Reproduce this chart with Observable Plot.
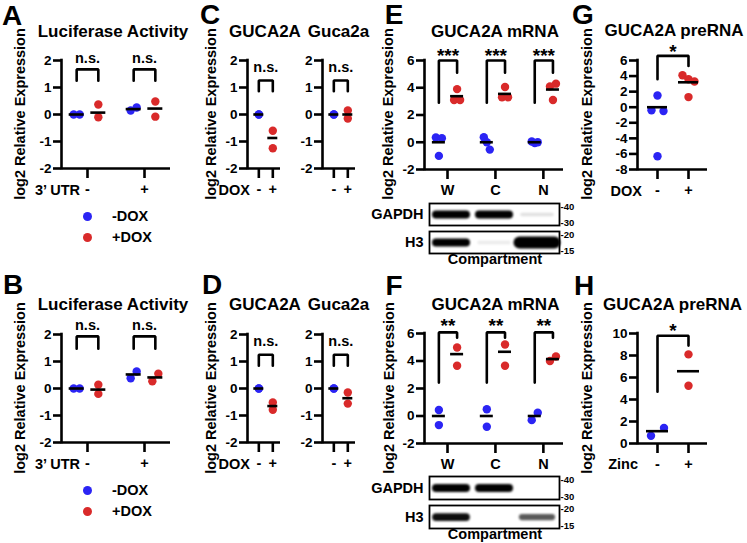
<!DOCTYPE html>
<html>
<head>
<meta charset="utf-8">
<script src="https://cdn.jsdelivr.net/npm/d3@7"></script>
<script src="https://cdn.jsdelivr.net/npm/@observablehq/plot@0.6"></script>
<style>
  body { margin: 0; background: #fff; }
  #fig { position: relative; width: 747px; height: 543px; overflow: hidden; background: #fff;
         font-family: "Liberation Sans", Arial, Helvetica, sans-serif; font-weight: bold; color: #000; }
  #fig svg { position: absolute; overflow: visible; max-width: none; background: transparent; }
  .t { position: absolute; white-space: nowrap; line-height: 1; }
  .dot { position: absolute; border-radius: 50%; }
</style>
</head>
<body>
<div id="fig"></div>
<script>
// ================= DATA (log2 relative expression) =================
const doxSeries = ["-DOX", "+DOX"];
const seriesColors = ["#2b24f4", "#d92a2a"];

// A / B : Luciferase Activity, x = 3' UTR
const utrLevels = ["-", "+"];
const lucA_minusDox = [[0, 0], [0.15, 0.26]];
const lucA_plusDox = [[0.37, -0.1], [0.48, -0.08]];
const lucA_meanMinus = [0, 0.2];
const lucA_meanPlus = [0.07, 0.22];
const lucA_sig = ["n.s.", "n.s."];

const lucB_minusDox = [[0, 0], [0.38, 0.63]];
const lucB_plusDox = [[0.14, -0.2], [0.27, 0.55]];
const lucB_meanMinus = [0, 0.52];
const lucB_meanPlus = [-0.04, 0.41];
const lucB_sig = ["n.s.", "n.s."];

// C / D : GUCA2A (human) and Guca2a (mouse), x = DOX
const doxLevels = ["-", "+"];
const gucC_human_minus = [0, 0];
const gucC_human_plus = [-0.6, -1.25];
const gucC_human_means = [0, -0.87];
const gucC_mouse_minus = [0, 0];
const gucC_mouse_plus = [0.15, -0.15];
const gucC_mouse_means = [0, 0];
const gucD_human_minus = [0, 0];
const gucD_human_plus = [-0.52, -0.79];
const gucD_human_means = [0, -0.65];
const gucD_mouse_minus = [0, 0];
const gucD_mouse_plus = [-0.15, -0.56];
const gucD_mouse_means = [0, -0.36];
const gucCD_sig = ["n.s."];

// E / F : GUCA2A mRNA by compartment
const compartments = ["W", "C", "N"];
const mrnaE_minusDox = [[0.35, 0.3, -1.0], [0.37, 0, -0.54], [0.05, -0.05, 0]];
const mrnaE_plusDox = [[3.9, 3.1, 3.1], [4.05, 3.3, 3.3], [4.1, 4.3, 3.1]];
const mrnaE_meanMinus = [0, 0, 0];
const mrnaE_meanPlus = [3.38, 3.55, 3.87];
const mrnaE_sig = ["***", "***", "***"];

const mrnaF_minusDox = [[0.44, -0.66], [0.49, -0.78], [-0.3, 0.24]];
const mrnaF_plusDox = [[4.98, 3.65], [5.2, 3.65], [4.0, 4.33]];
const mrnaF_meanMinus = [0, 0, 0];
const mrnaF_meanPlus = [4.5, 4.67, 4.14];
const mrnaF_sig = ["**", "**", "**"];

// G / H : GUCA2A preRNA
const preG_minus = [1.5, -0.4, -0.5, -6.3];
const preG_plus = [4.1, 3.6, 3.3, 1.3];
const preG_means = [0, 3.2];
const preG_sig = ["*"];
const zincLevels = ["-", "+"];
const preH_minus = [0.7, 1.42];
const preH_plus = [8.1, 5.25];
const preH_means = [1.12, 6.57];
const preH_sig = ["*"];

// Western blots (relative band signal per lane W, C, N)
const blotProteins = ["GAPDH", "H3"];
const blotE_GAPDH = [1, 1, 0.12];
const blotE_H3 = [1, 0.08, 1.6];
const blotF_GAPDH = [1, 1, 0];
const blotF_H3 = [0.95, 0, 0.65];
const markerTop = ["40", "20"];
const markerBottom = ["30", "15"];

// ================= HELPERS =================
const fig = document.getElementById("fig");
const FONT = '"Liberation Sans", Arial, Helvetica, sans-serif';
const LW = 2.6;

function txt(str, x, y, o = {}) {
  const d = document.createElement("div");
  d.className = "t";
  d.textContent = str;
  d.style.fontSize = (o.size || 14.5) + "px";
  d.style.left = x + "px";
  d.style.top = y + "px";
  const a = o.anchor || "middle";
  const tx = a === "start" ? "0" : a === "end" ? "-100%" : "-50%";
  d.style.transform = `translate(${tx},-50%)` + (o.rotate ? ` rotate(${o.rotate}deg)` : "");
  fig.appendChild(d);
}
function legendDot(color, x, y, r) {
  const d = document.createElement("div");
  d.className = "dot";
  Object.assign(d.style, {left: (x - r) + "px", top: (y - r) + "px", width: 2 * r + "px", height: 2 * r + "px", background: color});
  fig.appendChild(d);
}

// beeswarm-like spreading of overlapping points (returns offsets in px)
function dodge(values, ppuY, step, thresh) {
  const off = values.map(() => 0);
  if (!values.length || !step) return off;
  const idx = values.map((v, i) => i).sort((a, b) => values[b] - values[a]);
  const clusters = [];
  let cur = [idx[0]];
  for (let k = 1; k < idx.length; k++) {
    if ((values[idx[k - 1]] - values[idx[k]]) * ppuY < thresh) cur.push(idx[k]);
    else { clusters.push(cur); cur = [idx[k]]; }
  }
  clusters.push(cur);
  for (const c of clusters) {
    c.sort((a, b) => a - b);
    const n = c.length;
    if (n > 1) c.forEach((i, j) => off[i] = (j - (n - 1) / 2) * step / (n - 1));
  }
  return off;
}

function grouped(cats, minus, plus, meanM, meanP, offM, offP) {
  return cats.flatMap((c, i) => [
    {x: i + 1 + offM, color: seriesColors[0], values: minus[i], mean: meanM[i]},
    {x: i + 1 + offP, color: seriesColors[1], values: plus[i], mean: meanP[i]}
  ]);
}
function paired(minus, plus, means) {
  return [
    {x: 1, color: seriesColors[0], values: minus, mean: means[0]},
    {x: 2, color: seriesColors[1], values: plus, mean: means[1]}
  ];
}
function brackets(sig, offM, offP, top, legL, legR) {
  return sig.map((s, i) => ({x1: i + 1 + offM, x2: i + 1 + offP, top, legL, legR, label: s}));
}

function scatter(p) {
  const mL = 48, mR = 14, mT = 34, mB = 36;
  const [l, r, t, b] = p.frame;
  const W = r - l, H = b - t;
  const ppuY = H / (p.y[1] - p.y[0]);
  const ppuX = W / (p.x[1] - p.x[0]);
  const pts = [], means = [];
  for (const col of p.columns) {
    const off = dodge(col.values, ppuY, p.step, p.thresh || 8);
    col.values.forEach((v, i) => pts.push({x: col.x + off[i] / ppuX, y: v, color: col.color}));
    means.push({x1: col.x - p.meanHW / ppuX, x2: col.x + p.meanHW / ppuX, y: col.mean});
  }
  const brPts = p.brackets.flatMap((q, k) => [
    {k, x: q.x1, y: q.legL}, {k, x: q.x1, y: q.top}, {k, x: q.x2, y: q.top}, {k, x: q.x2, y: q.legR}
  ]);
  const svg = Plot.plot({
    width: W + mL + mR, height: H + mT + mB,
    marginLeft: mL, marginRight: mR, marginTop: mT, marginBottom: mB,
    style: {fontFamily: FONT, fontWeight: "bold", fontSize: "13.5px", background: "transparent", color: "#000", overflow: "visible"},
    x: {domain: p.x, ticks: p.cats.map((c, i) => i + 1), tickFormat: v => p.cats[Math.round(v) - 1] ?? "", tickSize: 10, tickPadding: 5, label: null},
    y: {domain: p.y, ticks: p.yTicks, tickFormat: d => String(d), tickSize: 8, tickPadding: 2, label: null},
    marks: [
      Plot.ruleY([p.y[0]], {strokeWidth: LW}),
      Plot.ruleX([p.x[0]], {strokeWidth: LW, strokeLinecap: "square"}),
      Plot.line(brPts, {x: "x", y: "y", z: "k", stroke: "#000", strokeWidth: LW, strokeLinejoin: "miter"}),
      Plot.text(p.brackets, {x: q => (q.x1 + q.x2) / 2, y: "top", text: "label", fontSize: p.sigSize, fontWeight: "bold", dy: p.sigDy}),
      Plot.dot(pts, {x: "x", y: "y", r: 4.2, fill: "color"}),
      Plot.ruleY(means, {x1: "x1", x2: "x2", y: "y", strokeWidth: LW})
    ]
  });
  const s = d3.select(svg);
  s.selectAll('[aria-label^="x-axis"] path, [aria-label^="x-axis"] line, [aria-label^="y-axis"] path, [aria-label^="y-axis"] line')
    .attr("stroke-width", LW);
  s.selectAll('[aria-label^="x-axis"] text').style("font-size", "14.5px");
  svg.style.left = (l - mL) + "px";
  svg.style.top = (t - mT) + "px";
  fig.appendChild(svg);
}

function blot(frame, gapdh, h3) {
  const mL = 70, mR = 26, mT = 4, mB = 4;
  const [l, r, t, b] = frame;
  const bands = [];
  blotProteins.forEach((prot, k) => (k === 0 ? gapdh : h3).forEach((s, i) => bands.push({protein: prot, lane: i + 1, s})));
  const ppuX = (r - l) / (3.512 - 0.488);
  const half = d => (15 + 4 * Math.max(0, d.s - 1)) / ppuX;
  const markers = blotProteins.map((prot, k) => ({protein: prot, top: markerTop[k], bottom: markerBottom[k]}));
  const svg = Plot.plot({
    width: (r - l) + mL + mR, height: (b - t) + mT + mB,
    marginLeft: mL, marginRight: mR, marginTop: mT, marginBottom: mB,
    style: {fontFamily: FONT, fontWeight: "bold", fontSize: "14.5px", background: "transparent", color: "#000", overflow: "visible"},
    x: {domain: [0.488, 3.512], axis: null},
    y: {domain: [0, 1], axis: null},
    fy: {domain: blotProteins, paddingInner: 0.21, paddingOuter: 0, axis: "left", tickSize: 0, tickPadding: 6, label: null},
    marks: [
      Plot.ruleY(bands.filter(d => d.s > 0), {
        fy: "protein", y: () => 0.5,
        x1: d => d.lane - half(d), x2: d => d.lane + half(d),
        stroke: "#000", strokeOpacity: d => Math.min(1, d.s),
        strokeWidth: d => 3 + 5 * Math.min(d.s, 1) + 7 * Math.max(0, d.s - 1),
        strokeLinecap: "round"
      }),
      Plot.frame({stroke: "#000", strokeWidth: 1.8}),
      Plot.text(markers, {fy: "protein", text: d => "-" + d.top, frameAnchor: "top-right", textAnchor: "start", lineAnchor: "middle", dx: 1, dy: 3, fontSize: 9.5, fontWeight: "bold"}),
      Plot.text(markers, {fy: "protein", text: d => "-" + d.bottom, frameAnchor: "bottom-right", textAnchor: "start", lineAnchor: "middle", dx: 1, dy: -3, fontSize: 9.5, fontWeight: "bold"})
    ]
  });
  const s = d3.select(svg);
  s.append("defs").append("filter").attr("id", "bandblur" + Math.round(t))
    .attr("x", "-20%").attr("y", "-100%").attr("width", "140%").attr("height", "300%")
    .append("feGaussianBlur").attr("stdDeviation", 1.1);
  s.selectAll('g[aria-label="rule"]').attr("filter", `url(#bandblur${Math.round(t)})`);
  s.selectAll('[aria-label^="fy-axis"] text').style("font-size", "14.5px");
  svg.style.left = (l - mL) + "px";
  svg.style.top = (t - mT) + "px";
  fig.appendChild(svg);
}

// ================= PANELS =================
const m11 = [-2, -1, 0, 1, 2];
// A
scatter({frame: [61, 170, 60, 168], x: [0.544, 2.456], y: [-2, 2], yTicks: m11, cats: utrLevels,
  columns: grouped(utrLevels, lucA_minusDox, lucA_plusDox, lucA_meanMinus, lucA_meanPlus, -0.19, 0.19),
  brackets: brackets(lucA_sig, -0.19, 0.19, 1.67, 1.25, 1.25), step: 6, meanHW: 7.5, sigSize: 14.5, sigDy: -11});
// B
scatter({frame: [61, 170, 334, 442], x: [0.544, 2.456], y: [-2, 2], yTicks: m11, cats: utrLevels,
  columns: grouped(utrLevels, lucB_minusDox, lucB_plusDox, lucB_meanMinus, lucB_meanPlus, -0.19, 0.19),
  brackets: brackets(lucB_sig, -0.19, 0.19, 1.93, 1.47, 1.47), step: 6, meanHW: 7.5, sigSize: 14.5, sigDy: -11});
// C
scatter({frame: [247, 280, 60, 168], x: [0.19, 2.55], y: [-2, 2], yTicks: m11, cats: doxLevels,
  columns: paired(gucC_human_minus, gucC_human_plus, gucC_human_means),
  brackets: brackets(gucCD_sig, 0, 1, 1.26, 0.86, 0.86), step: 0, meanHW: 5, sigSize: 14.5, sigDy: -13});
scatter({frame: [322, 355, 60, 168], x: [0.19, 2.55], y: [-2, 2], yTicks: m11, cats: doxLevels,
  columns: paired(gucC_mouse_minus, gucC_mouse_plus, gucC_mouse_means),
  brackets: brackets(gucCD_sig, 0, 1, 1.26, 0.86, 0.86), step: 0, meanHW: 5, sigSize: 14.5, sigDy: -13});
// D
scatter({frame: [247, 280, 334, 442], x: [0.19, 2.55], y: [-2, 2], yTicks: m11, cats: doxLevels,
  columns: paired(gucD_human_minus, gucD_human_plus, gucD_human_means),
  brackets: brackets(gucCD_sig, 0, 1, 1.25, 0.84, 0.84), step: 0, meanHW: 5, sigSize: 14.5, sigDy: -13});
scatter({frame: [322, 355, 334, 442], x: [0.19, 2.55], y: [-2, 2], yTicks: m11, cats: doxLevels,
  columns: paired(gucD_mouse_minus, gucD_mouse_plus, gucD_mouse_means),
  brackets: brackets(gucCD_sig, 0, 1, 1.25, 0.84, 0.84), step: 0, meanHW: 5, sigSize: 14.5, sigDy: -13});
// E
scatter({frame: [424, 563, 60, 169], x: [0.52, 3.42], y: [-2, 6], yTicks: [-2, 0, 2, 4, 6], cats: compartments,
  columns: grouped(compartments, mrnaE_minusDox, mrnaE_plusDox, mrnaE_meanMinus, mrnaE_meanPlus, -0.18, 0.2),
  brackets: brackets(mrnaE_sig, -0.18, 0.2, 6.0, 2.9, 5.1), step: 6, meanHW: 6.5, sigSize: 19, sigDy: -5});
// F
scatter({frame: [424, 563, 333, 443], x: [0.52, 3.42], y: [-2, 6], yTicks: [-2, 0, 2, 4, 6], cats: compartments,
  columns: grouped(compartments, mrnaF_minusDox, mrnaF_plusDox, mrnaF_meanMinus, mrnaF_meanPlus, -0.18, 0.2),
  brackets: brackets(mrnaF_sig, -0.18, 0.2, 6.08, 2.43, 5.7), step: 6, meanHW: 6.5, sigSize: 19, sigDy: -6});
// G
scatter({frame: [637, 707, 60, 169], x: [0.355, 2.613], y: [-8, 6], yTicks: [-8, -6, -4, -2, 0, 2, 4, 6], cats: doxLevels,
  columns: paired(preG_minus, preG_plus, preG_means),
  brackets: brackets(preG_sig, 0, 1, 6.6, 3.6, 5.3), step: 12, meanHW: 10, sigSize: 19, sigDy: -4});
// H
scatter({frame: [637, 707, 333, 443], x: [0.355, 2.613], y: [0, 10], yTicks: [0, 2, 4, 6, 8, 10], cats: zincLevels,
  columns: paired(preH_minus, preH_plus, preH_means),
  brackets: brackets(preH_sig, 0, 1, 9.8, 4.7, 8.9), step: 13, thresh: 9, meanHW: 11, sigSize: 19, sigDy: -5});

// Blots
blot([429, 559, 201.7, 253], blotE_GAPDH, blotE_H3);
blot([429, 559, 476, 528], blotF_GAPDH, blotF_H3);

// ================= TEXT =================
[["A", 12, 16], ["B", 13, 285], ["C", 210, 15], ["D", 212, 285], ["E", 394, 15], ["F", 394, 286], ["G", 583, 15], ["H", 584, 286]]
  .forEach(([s, x, y]) => txt(s, x, y, {size: 28}));

txt("Luciferase Activity", 113, 30.5, {size: 17});
txt("Luciferase Activity", 113, 303.5, {size: 17});
txt("GUCA2A", 265, 30.5, {size: 17});
txt("Guca2a", 338.5, 30.5, {size: 17});
txt("GUCA2A", 265, 303.5, {size: 17});
txt("Guca2a", 338.5, 303.5, {size: 17});
txt("GUCA2A mRNA", 495, 30.5, {size: 17});
txt("GUCA2A mRNA", 495.5, 303.5, {size: 17});
txt("GUCA2A preRNA", 674, 30, {size: 17});
txt("GUCA2A preRNA", 672.5, 304, {size: 17});

const ylab = "log2 Relative Expression";
[[20, 114], [20, 388], [211, 114], [211, 388], [388, 114], [388.5, 388], [587, 114], [587, 388]]
  .forEach(([x, y]) => txt(ylab, x, y, {size: 14.5, rotate: -90}));

txt("3\u2019 UTR", 80, 190, {anchor: "end"});
txt("3\u2019 UTR", 80, 464, {anchor: "end"});
txt("DOX", 250, 190, {anchor: "end"});
txt("DOX", 250, 464, {anchor: "end"});
txt("DOX", 642, 191, {anchor: "end"});
txt("Zinc", 638, 463.5, {anchor: "end"});
txt("Compartment", 495, 259);
txt("Compartment", 495, 534);

// legends
[[216, 237.3], [490, 511.3]].forEach(([y1, y2]) => {
  legendDot(seriesColors[0], 87.3, y1, 4.5);
  legendDot(seriesColors[1], 87.3, y2, 4.5);
  txt(doxSeries[0], 112, y1, {anchor: "start"});
  txt(doxSeries[1], 112, y2, {anchor: "start"});
});
</script>
</body>
</html>
